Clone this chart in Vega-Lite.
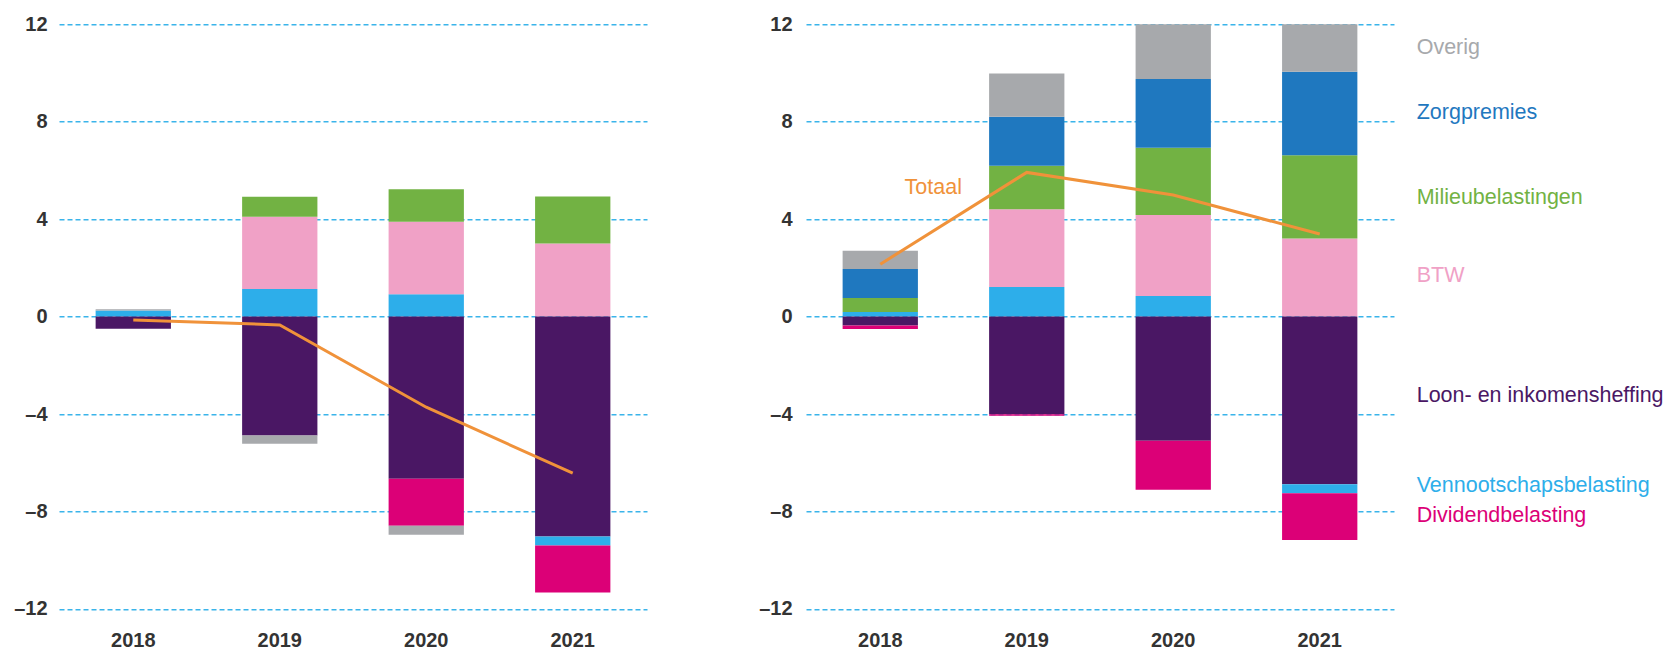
{
  "$schema": "https://vega.github.io/schema/vega-lite/v6.json",
  "padding": {"left": 5, "top": 14.3, "right": 0, "bottom": 0},
  "background": "white",
  "config": {
    "view": {"stroke": null},
    "font": "Liberation Sans",
    "concat": {"spacing": 105},
    "axis": {"labelFont": "Liberation Sans", "labelColor": "#333333", "labelFontSize": 20, "labelFontWeight": "bold", "domain": false, "ticks": false, "tickSize": 0, "title": null}
  },
  "datasets": {
    "bars": [
      {"panel": "L", "year": "2018", "category": "Vennootschapsbelasting", "value": 0.25},
      {"panel": "L", "year": "2018", "category": "Overig", "value": 0.05},
      {"panel": "L", "year": "2018", "category": "Loon- en inkomensheffing", "value": -0.5},
      {"panel": "L", "year": "2019", "category": "Vennootschapsbelasting", "value": 1.13},
      {"panel": "L", "year": "2019", "category": "BTW", "value": 2.97},
      {"panel": "L", "year": "2019", "category": "Milieubelastingen", "value": 0.82},
      {"panel": "L", "year": "2019", "category": "Loon- en inkomensheffing", "value": -4.88},
      {"panel": "L", "year": "2019", "category": "Overig", "value": -0.34},
      {"panel": "L", "year": "2020", "category": "Vennootschapsbelasting", "value": 0.92},
      {"panel": "L", "year": "2020", "category": "BTW", "value": 2.97},
      {"panel": "L", "year": "2020", "category": "Milieubelastingen", "value": 1.34},
      {"panel": "L", "year": "2020", "category": "Loon- en inkomensheffing", "value": -6.66},
      {"panel": "L", "year": "2020", "category": "Dividendbelasting", "value": -1.93},
      {"panel": "L", "year": "2020", "category": "Overig", "value": -0.37},
      {"panel": "L", "year": "2021", "category": "BTW", "value": 3.0},
      {"panel": "L", "year": "2021", "category": "Milieubelastingen", "value": 1.93},
      {"panel": "L", "year": "2021", "category": "Loon- en inkomensheffing", "value": -9.03},
      {"panel": "L", "year": "2021", "category": "Vennootschapsbelasting", "value": -0.37},
      {"panel": "L", "year": "2021", "category": "Dividendbelasting", "value": -1.93},
      {"panel": "R", "year": "2018", "category": "Vennootschapsbelasting", "value": 0.19},
      {"panel": "R", "year": "2018", "category": "Milieubelastingen", "value": 0.57},
      {"panel": "R", "year": "2018", "category": "Zorgpremies", "value": 1.19},
      {"panel": "R", "year": "2018", "category": "Overig", "value": 0.75},
      {"panel": "R", "year": "2018", "category": "Loon- en inkomensheffing", "value": -0.37},
      {"panel": "R", "year": "2018", "category": "Dividendbelasting", "value": -0.14},
      {"panel": "R", "year": "2019", "category": "Vennootschapsbelasting", "value": 1.22},
      {"panel": "R", "year": "2019", "category": "BTW", "value": 3.19},
      {"panel": "R", "year": "2019", "category": "Milieubelastingen", "value": 1.78},
      {"panel": "R", "year": "2019", "category": "Zorgpremies", "value": 2.01},
      {"panel": "R", "year": "2019", "category": "Overig", "value": 1.78},
      {"panel": "R", "year": "2019", "category": "Loon- en inkomensheffing", "value": -4.01},
      {"panel": "R", "year": "2019", "category": "Dividendbelasting", "value": -0.06},
      {"panel": "R", "year": "2020", "category": "Vennootschapsbelasting", "value": 0.85},
      {"panel": "R", "year": "2020", "category": "BTW", "value": 3.32},
      {"panel": "R", "year": "2020", "category": "Milieubelastingen", "value": 2.76},
      {"panel": "R", "year": "2020", "category": "Zorgpremies", "value": 2.82},
      {"panel": "R", "year": "2020", "category": "Overig", "value": 2.35},
      {"panel": "R", "year": "2020", "category": "Loon- en inkomensheffing", "value": -5.1},
      {"panel": "R", "year": "2020", "category": "Dividendbelasting", "value": -2.01},
      {"panel": "R", "year": "2021", "category": "BTW", "value": 3.21},
      {"panel": "R", "year": "2021", "category": "Milieubelastingen", "value": 3.41},
      {"panel": "R", "year": "2021", "category": "Zorgpremies", "value": 3.43},
      {"panel": "R", "year": "2021", "category": "Overig", "value": 2.5},
      {"panel": "R", "year": "2021", "category": "Loon- en inkomensheffing", "value": -6.88},
      {"panel": "R", "year": "2021", "category": "Vennootschapsbelasting", "value": -0.37},
      {"panel": "R", "year": "2021", "category": "Dividendbelasting", "value": -1.92}
    ],
    "totals": [
      {"panel": "L", "year": "2018", "total": -0.14},
      {"panel": "L", "year": "2019", "total": -0.34},
      {"panel": "L", "year": "2020", "total": -3.72},
      {"panel": "L", "year": "2021", "total": -6.43},
      {"panel": "R", "year": "2018", "total": 2.15},
      {"panel": "R", "year": "2019", "total": 5.92},
      {"panel": "R", "year": "2020", "total": 4.99},
      {"panel": "R", "year": "2021", "total": 3.39}
    ],
    "labels": [
      {"category": "Overig", "anchor": 11.02},
      {"category": "Zorgpremies", "anchor": 8.37},
      {"category": "Milieubelastingen", "anchor": 4.85},
      {"category": "BTW", "anchor": 1.66},
      {"category": "Loon- en inkomensheffing", "anchor": -3.25},
      {"category": "Vennootschapsbelasting", "anchor": -6.94},
      {"category": "Dividendbelasting", "anchor": -8.18}
    ]
  },
  "hconcat": [
    {
      "width": 588,
      "height": 584.6,
      "layer": [
        {
          "data": {"name": "bars"},
          "transform": [
            {"filter": "datum.panel === 'L'"},
            {"calculate": "indexof(['Loon- en inkomensheffing','Vennootschapsbelasting','BTW','Milieubelastingen','Dividendbelasting','Zorgpremies','Overig'], datum.category)", "as": "rank"}
          ],
          "mark": {"type": "bar", "clip": true},
          "encoding": {
            "x": {"field": "year", "type": "ordinal", "scale": {"paddingInner": 0.486, "paddingOuter": 0.25}, "axis": {"labelAngle": 0, "labelPadding": 22}},
            "y": {"field": "value", "type": "quantitative", "stack": "zero", "scale": {"domain": [-12, 12], "nice": false}, "axis": {"values": [-12, -8, -4, 0, 4, 8, 12], "labelPadding": 12, "minExtent": 54, "maxExtent": 54, "labelExpr": "datum.value < 0 ? '–' + abs(datum.value) : '' + datum.value", "grid": true, "gridColor": "#3AB4EA", "gridDash": [5, 3], "gridWidth": 1.4}},
            "order": {"field": "rank", "type": "quantitative", "sort": "ascending"},
            "color": {"field": "category", "type": "nominal", "legend": null, "scale": {"domain": ["Loon- en inkomensheffing", "Vennootschapsbelasting", "BTW", "Milieubelastingen", "Dividendbelasting", "Zorgpremies", "Overig"], "range": ["#4A1764", "#2DAEEA", "#F0A1C6", "#72B243", "#DC0077", "#1F78BF", "#A7A9AC"]}}
          }
        },
        {
          "data": {"name": "totals"},
          "transform": [{"filter": "datum.panel === 'L'"}],
          "mark": {"type": "line", "color": "#F0923A", "strokeWidth": 3},
          "encoding": {
            "x": {"field": "year", "type": "ordinal"},
            "y": {"field": "total", "type": "quantitative"}
          }
        }
      ]
    },
    {
      "width": 588,
      "height": 584.6,
      "layer": [
        {
          "data": {"name": "bars"},
          "transform": [
            {"filter": "datum.panel === 'R'"},
            {"calculate": "indexof(['Loon- en inkomensheffing','Vennootschapsbelasting','BTW','Milieubelastingen','Dividendbelasting','Zorgpremies','Overig'], datum.category)", "as": "rank"}
          ],
          "mark": {"type": "bar", "clip": true},
          "encoding": {
            "x": {"field": "year", "type": "ordinal", "scale": {"paddingInner": 0.486, "paddingOuter": 0.25}, "axis": {"labelAngle": 0, "labelPadding": 22}},
            "y": {"field": "value", "type": "quantitative", "stack": "zero", "scale": {"domain": [-12, 12], "nice": false}, "axis": {"values": [-12, -8, -4, 0, 4, 8, 12], "labelPadding": 14, "minExtent": 54, "maxExtent": 54, "labelExpr": "datum.value < 0 ? '–' + abs(datum.value) : '' + datum.value", "grid": true, "gridColor": "#3AB4EA", "gridDash": [5, 3], "gridWidth": 1.4}},
            "order": {"field": "rank", "type": "quantitative", "sort": "ascending"},
            "color": {"field": "category", "type": "nominal", "legend": null, "scale": {"domain": ["Loon- en inkomensheffing", "Vennootschapsbelasting", "BTW", "Milieubelastingen", "Dividendbelasting", "Zorgpremies", "Overig"], "range": ["#4A1764", "#2DAEEA", "#F0A1C6", "#72B243", "#DC0077", "#1F78BF", "#A7A9AC"]}}
          }
        },
        {
          "data": {"name": "totals"},
          "transform": [{"filter": "datum.panel === 'R'"}],
          "mark": {"type": "line", "color": "#F0923A", "strokeWidth": 3},
          "encoding": {
            "x": {"field": "year", "type": "ordinal"},
            "y": {"field": "total", "type": "quantitative"}
          }
        },
        {
          "data": {"values": [{"label": "Totaal"}]},
          "mark": {"type": "text", "color": "#F0923A", "fontSize": 21.5, "align": "center", "baseline": "middle", "dx": 53},
          "encoding": {
            "x": {"datum": "2018", "type": "ordinal"},
            "y": {"datum": 5.27, "type": "quantitative"},
            "text": {"field": "label"}
          }
        },
        {
          "data": {"name": "labels"},
          "mark": {"type": "text", "fontSize": 21.5, "align": "left", "baseline": "middle", "dx": 97},
          "encoding": {
            "x": {"datum": "2021", "type": "ordinal"},
            "y": {"field": "anchor", "type": "quantitative"},
            "text": {"field": "category"},
            "color": {"field": "category", "type": "nominal", "legend": null}
          }
        }
      ]
    }
  ]
}
